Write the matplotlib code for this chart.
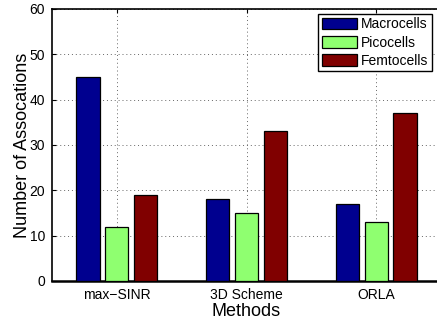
import matplotlib
matplotlib.use("Agg")
import matplotlib.pyplot as plt
import numpy as np

plt.rcParams['font.family'] = ['Liberation Sans', 'DejaVu Sans']

methods = ["max\u2212SINR", "3D Scheme", "ORLA"]
series_names = ["Macrocells", "Picocells", "Femtocells"]
macro = [45, 18, 17]
pico = [12, 15, 13]
femto = [19, 33, 37]
colors = ["#00008F", "#8FFF70", "#800000"]

fig = plt.figure(figsize=(4.37, 3.22), dpi=100)
ax = fig.add_axes([52 / 437, 1 - 281 / 322, 389 / 437, 272 / 322])

x = np.arange(1, len(methods) + 1)
step = 0.667 / 3
width = step * 0.8
for i, (vals, name, c) in enumerate(zip([macro, pico, femto], series_names, colors)):
    ax.bar(x + (i - 1) * step, vals, width, color=c, edgecolor="black",
           linewidth=0.9, label=name, zorder=3)

ax.set_xlim(0.5, 3.5)
ax.set_ylim(0, 60)
ax.set_xticks(x)
ax.set_xticklabels(methods)
ax.set_yticks(np.arange(0, 61, 10))
ax.tick_params(direction="in", top=True, right=True, labelsize=10, length=3, pad=5)
ax.grid(True, linestyle=(0, (1, 3)), color="#666666", linewidth=0.7, zorder=0)
for s in ax.spines.values():
    s.set_linewidth(1.2)
ax.spines["bottom"].set_linewidth(1.8)

ax.set_xlabel("Methods", fontsize=13, labelpad=1)
ax.set_ylabel("Number of Assocations", fontsize=13, labelpad=-1)

leg = ax.legend(loc="upper right", bbox_to_anchor=(0.976, 0.982), fontsize=10,
                fancybox=False, edgecolor="black", framealpha=1,
                handlelength=2.5, handleheight=0.9, handletextpad=0.3,
                borderpad=0.25, labelspacing=0.3, borderaxespad=0)
leg.get_frame().set_linewidth(1.0)

fig.savefig("out.png", dpi=100)
